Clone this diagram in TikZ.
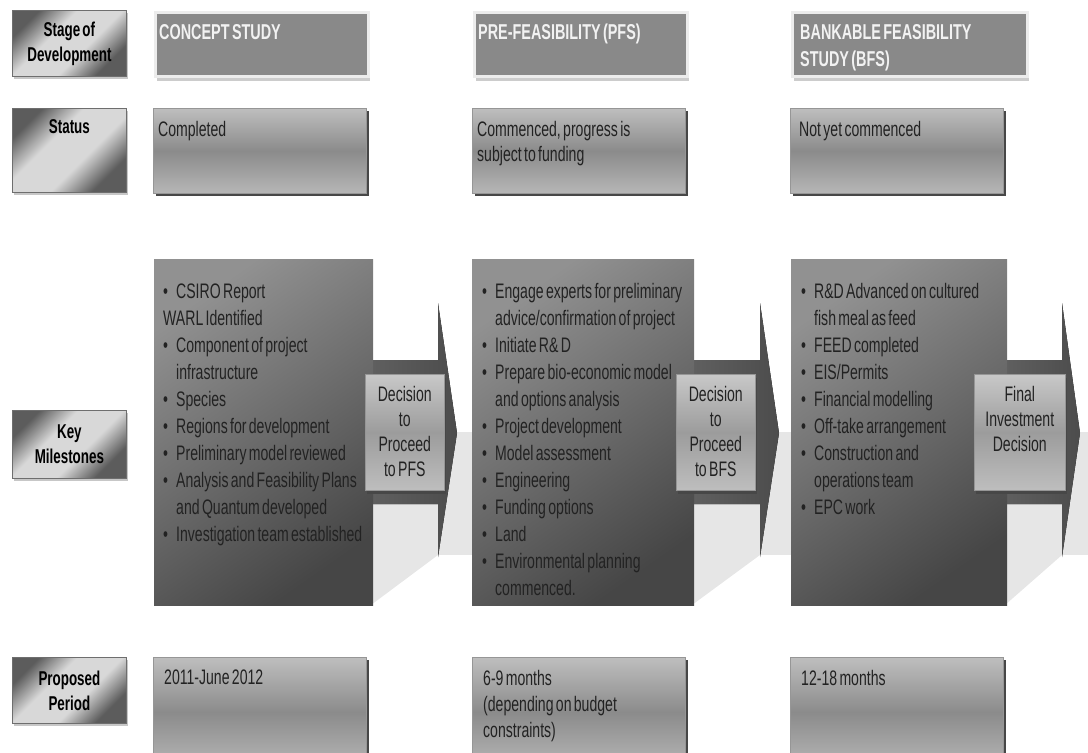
\documentclass[tikz,border=0pt]{standalone}
\usepackage{fontspec}
\setmainfont{Liberation Sans}[FakeStretch=0.67, WordSpace=0.6]
\usetikzlibrary{positioning}
\usetikzlibrary{shadows}
\definecolor{band1}{RGB}{230,230,230}
\definecolor{lbldark}{RGB}{92,92,92}
\definecolor{lbllight}{RGB}{216,216,216}
\definecolor{lbledge}{RGB}{110,110,110}
\definecolor{stage1}{RGB}{137,137,137}
\definecolor{stageedge}{RGB}{236,236,236}
\definecolor{boxtop}{RGB}{190,190,190}
\definecolor{boxmid}{RGB}{139,139,139}
\definecolor{boxlow}{RGB}{182,182,182}
\definecolor{boxedge}{RGB}{150,150,150}
\definecolor{key1}{RGB}{145,145,145}
\definecolor{key2}{RGB}{70,70,70}
\definecolor{arrow1}{RGB}{96,96,96}
\definecolor{arrow2}{RGB}{76,76,76}
\definecolor{dec1}{RGB}{200,200,200}
\definecolor{dec2}{RGB}{156,156,156}
\definecolor{dec3}{RGB}{190,190,190}
\definecolor{txt1}{RGB}{34,34,34}
\definecolor{txt2}{RGB}{242,242,242}

\pgfdeclarehorizontalshading{shine1}{100bp}{color(0bp)=(lbldark); color(27bp)=(lbldark); color(42bp)=(lbllight); color(60bp)=(lbllight); color(75bp)=(lbldark); color(100bp)=(lbldark)}

\newcommand\bodyfont{\fontsize{21}{27}\selectfont}
\newcommand\lblfont{\fontsize{20}{25}\selectfont\bfseries}
\newcommand\mitem[1]{\par\noindent\spaceskip=0pt\xspaceskip=0pt\hangindent=13pt\hangafter=1\makebox[13pt][l]{\textbullet}#1}
\newcommand\mline[1]{\par\noindent\spaceskip=0pt\xspaceskip=0pt#1}

\begin{document}
\begin{tikzpicture}[x=1pt, y=-1pt,
  lblbox/.style={rectangle, draw=lbledge, line width=0.8pt, shading=shine1, shading angle=135, minimum width=114pt, anchor=north west, inner sep=0pt, align=center, font=\lblfont, drop shadow={shadow xshift=2pt, shadow yshift=-3pt, fill=black!22, opacity=1}},
  stagebox/.style={rectangle, fill=stage1, draw=stageedge, line width=3pt, anchor=north west, inner sep=0pt, minimum height=64pt, drop shadow={shadow xshift=1pt, shadow yshift=-4pt, fill=black!20, opacity=1}},
  statbox/.style={rectangle, top color=boxtop, bottom color=boxlow, middle color=boxmid, draw=boxedge, line width=0.6pt, anchor=north west, inner sep=0pt, minimum width=213pt, drop shadow={shadow xshift=3pt, shadow yshift=-3pt, fill=black!72, opacity=1}},
  keybox/.style={rectangle, top color=key1, bottom color=key2, shading angle=35, anchor=north west, inner sep=0pt, minimum height=346pt},
  decbox/.style={rectangle, top color=dec1, bottom color=dec3, middle color=dec2, draw=boxedge, line width=0.6pt, anchor=north west, inner sep=0pt, minimum height=116pt, drop shadow={shadow xshift=2pt, shadow yshift=-4pt, fill=black!72, opacity=1}},
  arrowshape/.style={left color=arrow1, right color=arrow2},
  stagetxt/.style={inner sep=0pt, align=left, font=\fontsize{21.5}{27}\selectfont\bfseries, text=txt2},
  boxtxt/.style={inner sep=0pt, align=left, font=\bodyfont, text=txt1},
  keytxt/.style={inner sep=0pt, align=left, text width=230pt, font=\bodyfont, text=txt1},
  dectxt/.style={inner sep=0pt, align=center, font=\fontsize{21}{25}\selectfont, text=txt1}]
  \useasboundingbox (0,0) rectangle (1088,753);
  \clip (0,0) rectangle (1088,753);

  % light band behind the arrows
  \fill[band1] (160,432) rectangle (1088,555);
  \foreach \bx/\ax in {373/438, 694/760, 1007/1062}
    \fill[band1] (\bx-2,555) -- (\ax,555) -- (\bx-2,605) -- cycle;
  \foreach \bx/\ax/\tx in {373/438/457, 694/760/779, 1007/1062/1080}
    \fill[arrowshape] (\bx-4,360) -- (\ax,360) -- (\ax,303) -- (\tx,433) -- (\ax,557) -- (\ax,504) -- (\bx-4,504) -- cycle;

  % row labels
  \node[lblbox, minimum height=66pt] (lblStage) at (12,10) {Stage of\\Development};
  \node[lblbox, minimum height=84pt, text depth=48pt] (lblStatus) at (12,108) {Status};
  \node[lblbox, minimum height=68pt] (lblKey) at (12,410) {Key\\Milestones};
  \node[lblbox, minimum height=66pt] (lblPeriod) at (12,657) {Proposed\\Period};

  % stage of development
  \node[stagebox, minimum width=213pt] (stageA) at (154,11) {};
  \node[stagebox, minimum width=213pt] (stageB) at (473,11) {};
  \node[stagebox, minimum width=235pt] (stageC) at (791,11) {};
  \node[stagetxt, below right=13pt and 5pt of stageA.north west] (stageAtxt) {CONCEPT STUDY};
  \node[stagetxt, below right=13pt and 5pt of stageB.north west] (stageBtxt) {PRE-FEASIBILITY (PFS)};
  \node[stagetxt, below right=13pt and 9pt of stageC.north west] (stageCtxt) {BANKABLE FEASIBILITY\\STUDY (BFS)};

  % status
  \node[statbox, minimum height=85pt] (statusA) at (153,108) {};
  \node[statbox, minimum height=85pt] (statusB) at (472,108) {};
  \node[statbox, minimum height=85pt] (statusC) at (790,108) {};
  \node[boxtxt, below right=13pt and 5pt of statusA.north west] (statusAtxt) {Completed};
  \node[boxtxt, font=\fontsize{21}{25}\selectfont, below right=13pt and 5pt of statusB.north west] (statusBtxt) {Commenced, progress is\\subject to funding};
  \node[boxtxt, below right=13pt and 9pt of statusC.north west] (statusCtxt) {Not yet commenced};

  % key milestones
  \node[keybox, minimum width=219pt] (keyA) at (154,259) {};
  \node[keybox, minimum width=222pt] (keyB) at (472,259) {};
  \node[keybox, minimum width=216pt] (keyC) at (791,259) {};
  \node[keytxt, below right=12pt and 9pt of keyA.north west] (keyAtxt) {%
    \mitem{CSIRO Report}
    \mline{WARL Identified}
    \mitem{Component of project\newline infrastructure}
    \mitem{Species}
    \mitem{Regions for development}
    \mitem{Preliminary model reviewed}
    \mitem{Analysis and Feasibility Plans\newline and Quantum developed}
    \mitem{Investigation team established}\par};
  \node[keytxt, below right=12pt and 10pt of keyB.north west] (keyBtxt) {%
    \mitem{Engage experts for preliminary\newline advice/confirmation of project}
    \mitem{Initiate R\& D}
    \mitem{Prepare bio-economic model\newline and options analysis}
    \mitem{Project development}
    \mitem{Model assessment}
    \mitem{Engineering}
    \mitem{Funding options}
    \mitem{Land}
    \mitem{Environmental planning\newline commenced.}\par};
  \node[keytxt, below right=12pt and 10pt of keyC.north west] (keyCtxt) {%
    \mitem{R\&D Advanced on cultured\newline fish meal as feed}
    \mitem{FEED completed}
    \mitem{EIS/Permits}
    \mitem{Financial modelling}
    \mitem{Off-take arrangement}
    \mitem{Construction and\newline operations team}
    \mitem{EPC work}\par};

  % decisions
  \node[decbox, minimum width=79pt] (decA) at (365,374) {};
  \node[decbox, minimum width=79pt] (decB) at (676,374) {};
  \node[decbox, minimum width=91pt] (decC) at (974,374) {};
  \node[dectxt, below=12pt of decA.north] (decAtxt) {Decision\\to\\Proceed\\to PFS};
  \node[dectxt, below=12pt of decB.north] (decBtxt) {Decision\\to\\Proceed\\to BFS};
  \node[dectxt, below=12pt of decC.north] (decCtxt) {Final\\Investment\\Decision};

  % proposed period
  \node[statbox, minimum height=110pt] (periodA) at (153,657) {};
  \node[statbox, minimum height=110pt] (periodB) at (472,657) {};
  \node[statbox, minimum height=110pt] (periodC) at (790,657) {};
  \node[boxtxt, below right=13pt and 11pt of periodA.north west] (periodAtxt) {2011-June 2012};
  \node[boxtxt, font=\fontsize{21}{26}\selectfont, below right=13pt and 11pt of periodB.north west] (periodBtxt) {6-9 months\\(depending on budget\\constraints)};
  \node[boxtxt, below right=13pt and 11pt of periodC.north west] (periodCtxt) {12-18 months};
\end{tikzpicture}
\end{document}
